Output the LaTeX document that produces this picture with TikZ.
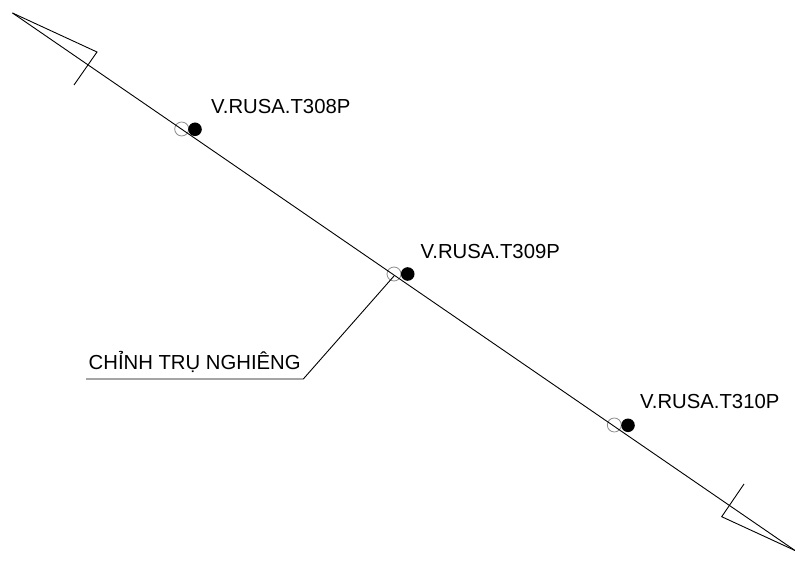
\documentclass[tikz,border=0pt]{standalone}
\usepackage{fontspec}
\setmainfont{Liberation Sans}
\tikzset{
  lbl/.style={inner sep=0pt,anchor=base west,font=\fontsize{20.3}{23}\selectfont,text=black},
  ln/.style={draw=black,line width=0.9pt,line join=miter},
  open/.style={circle,draw=black!45,line width=0.8pt,minimum size=14pt,inner sep=0pt},
  solid/.style={circle,fill=black,minimum size=13.6pt,inner sep=0pt},
}
\begin{document}
\begin{tikzpicture}[x=1pt,y=-1pt]
\useasboundingbox (0,0) rectangle (795,561);
\node[open] (o1) at (181.7,129) {};
\node[open] (o2) at (394,274) {};
\node[open] (o3) at (614.3,425) {};
\node[solid] (s1) at (195,129.3) {};
\node[solid] (s2) at (407.7,274) {};
\node[solid] (s3) at (628,425.3) {};
\coordinate (a) at (12.5,13);
\coordinate (b) at (795,550.5);
\coordinate (t1) at (97,52);
\coordinate (t2) at (74,85);
\coordinate (u1) at (721.7,516.7);
\coordinate (u2) at (744,484);
\coordinate (l1) at (394,276);
\coordinate (l2) at (303.3,379);
\coordinate (l3) at (86,379);
\draw[ln] (a) -- (b);
\draw[ln] (a) -- (t1) -- (t2);
\draw[ln] (b) -- (u1) -- (u2);
\draw[ln] (l1) -- (l2) -- (l3);
\node[lbl] (n1) at (211,113.3) {V.RUSA.T308P};
\node[lbl] (n2) at (420.5,259) {V.RUSA.T309P};
\node[lbl] (n3) at (640,408.3) {V.RUSA.T310P};
\node[lbl] (n4) at (88.5,369) {CHỈNH TRỤ NGHIÊNG};
\end{tikzpicture}
\end{document}
